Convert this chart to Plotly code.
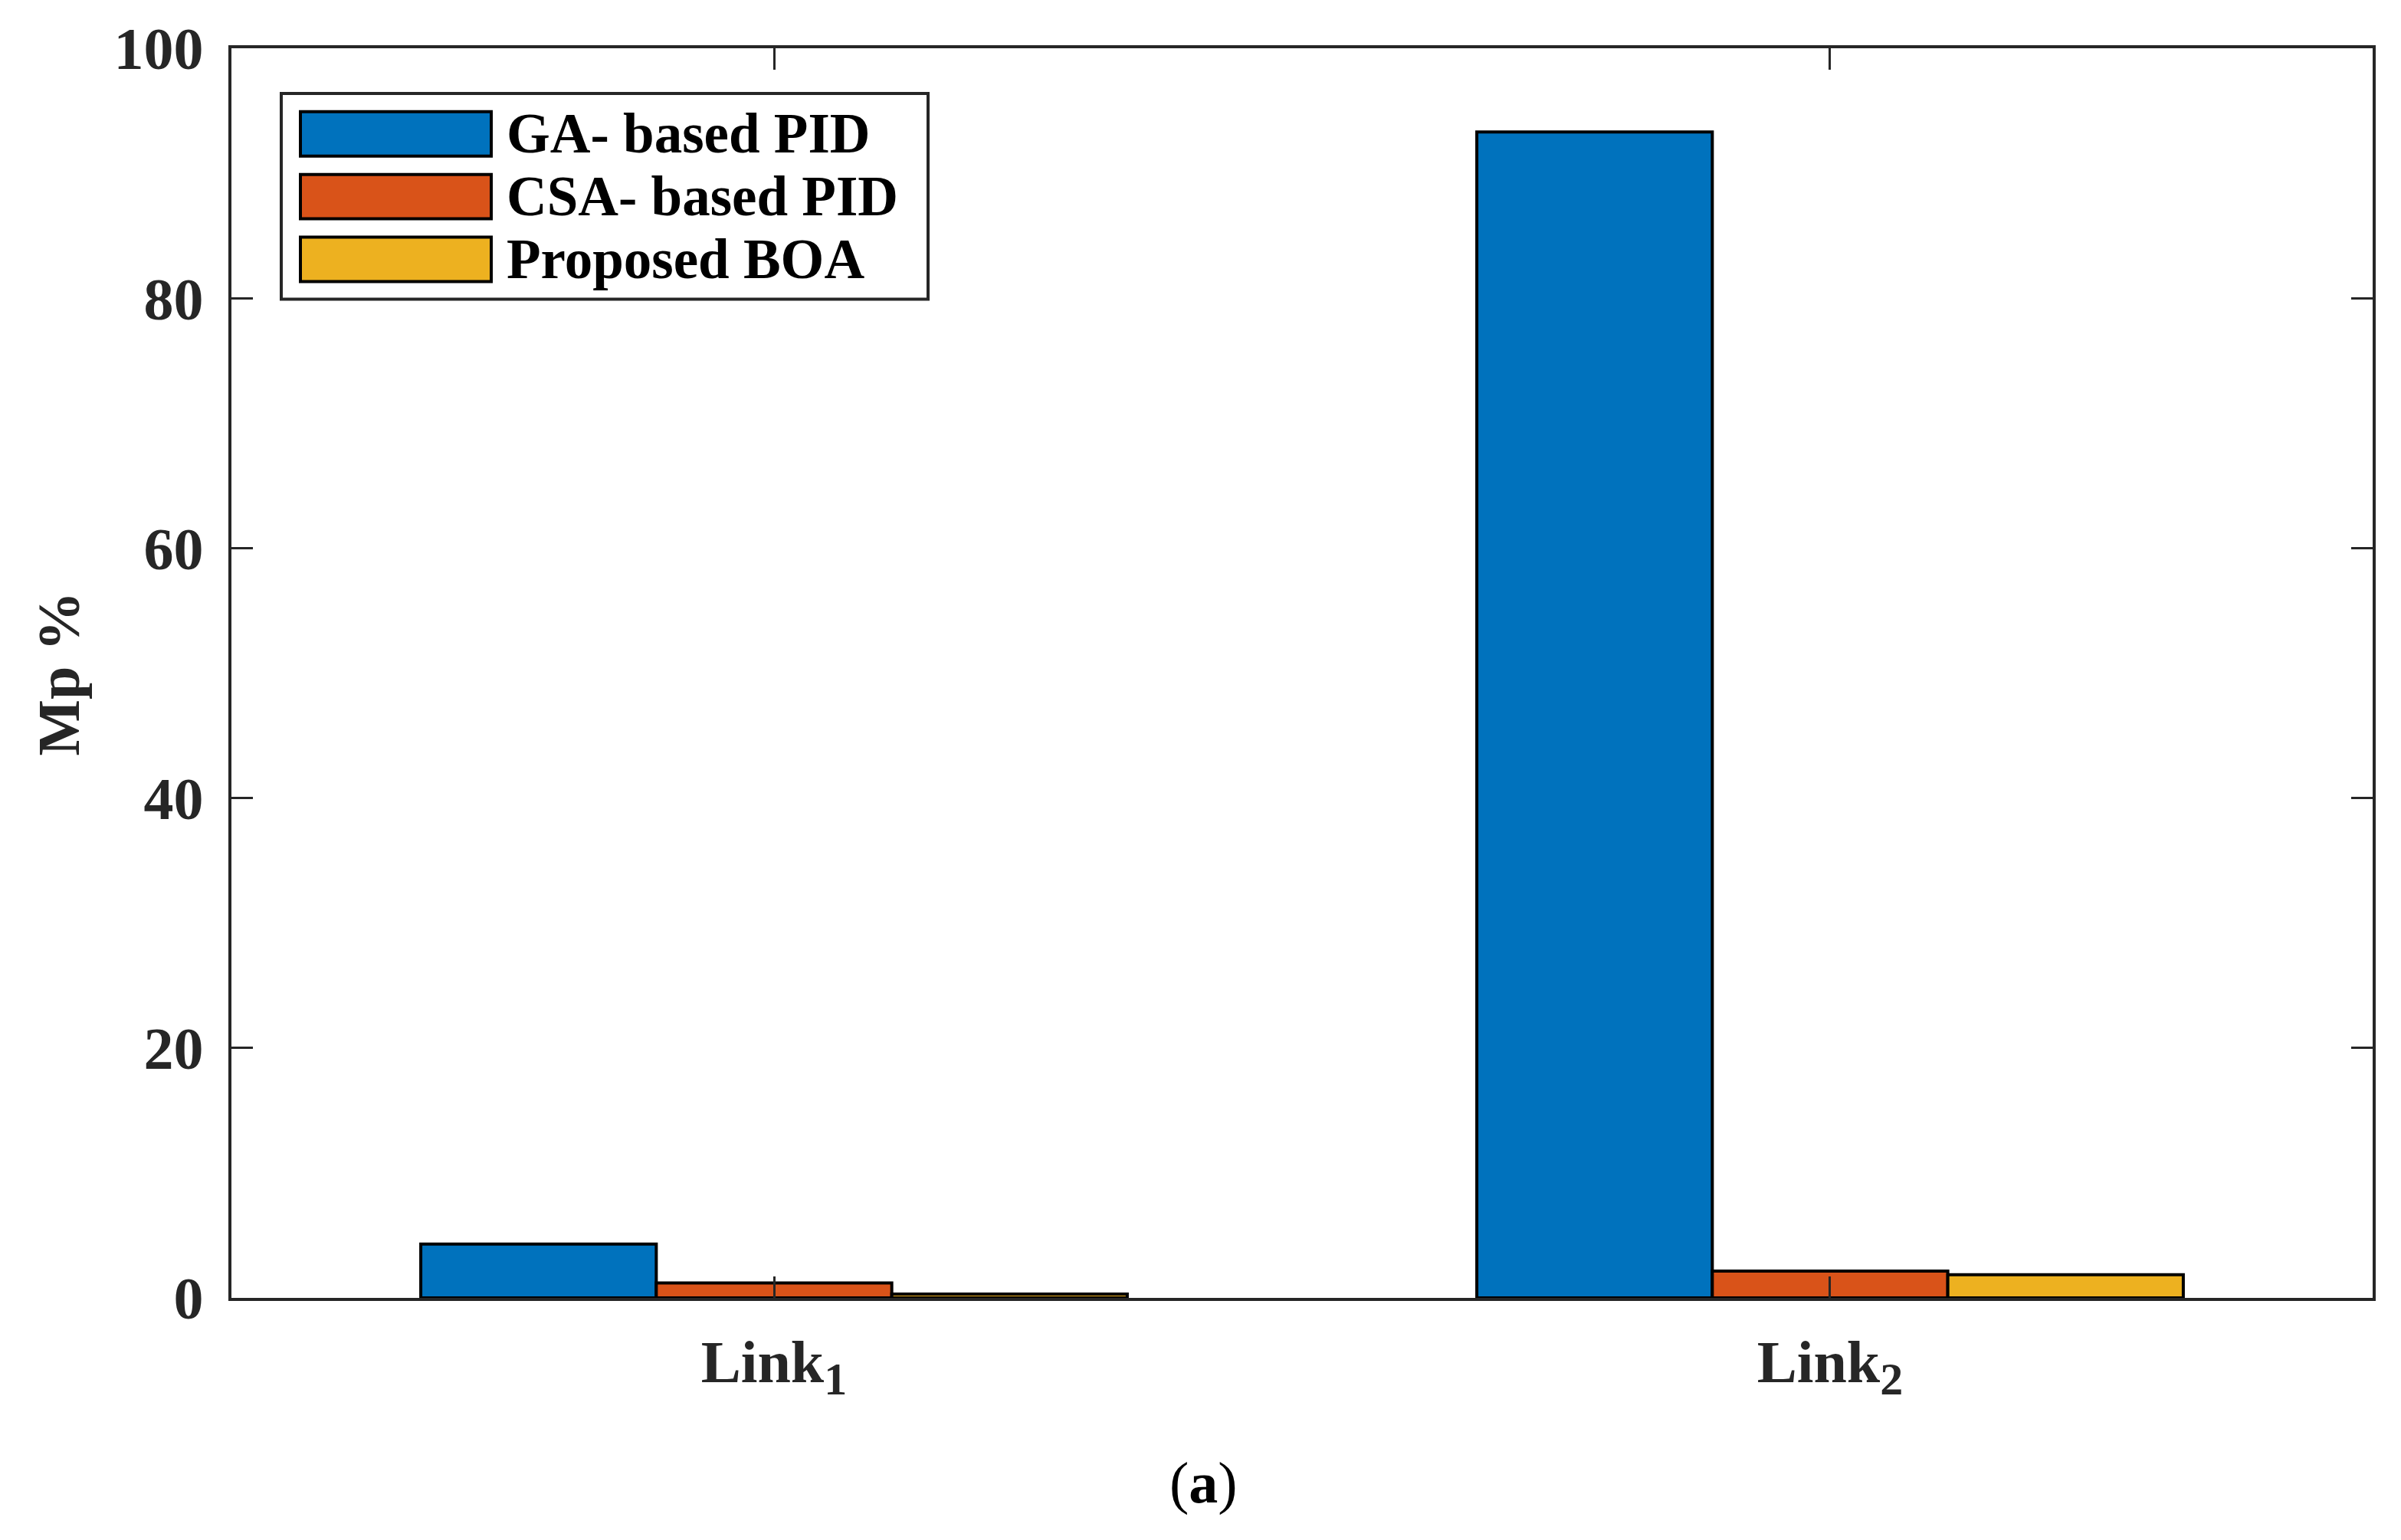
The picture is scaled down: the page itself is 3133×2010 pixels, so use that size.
import plotly.graph_objects as go

# ---- data ----
categories = ["Link1", "Link2"]
tick_labels = ["Link<sub><span style='font-size:60px'>1</span></sub>",
               "Link<sub><span style='font-size:60px'>2</span></sub>"]
series_names = ["GA- based PID", "CSA- based PID", "Proposed BOA"]
ga_values = [4.3, 93.3]
csa_values = [1.2, 2.15]
boa_values = [0.3, 1.85]
y_ticks = [0, 20, 40, 60, 80, 100]

colors = ["#0072BD", "#D95319", "#EDB120"]
OFF = 8  # default page body margin
W, H = 3133 - 2 * OFF, 2010 - 2 * OFF
# plot area in reference pixel coordinates
X0, X1, Y0, Y1 = 302, 3096, 60, 1694
ML, MR = X0 - OFF, W - (X1 - OFF)
MT, MB = Y0 - OFF, H - (Y1 - OFF)
FONT = "Liberation Serif"
AX = "#262626"


def px_x(x):
    return (x - X0) / (X1 - X0)


def px_y(y):
    return (Y1 - y) / (Y1 - Y0)


fig = go.Figure()
for name, vals, col in zip(series_names, [ga_values, csa_values, boa_values], colors):
    fig.add_trace(go.Bar(
        x=categories, y=vals, name=name,
        marker=dict(color=col, line=dict(color="black", width=4)),
        showlegend=False,
    ))

axis_common = dict(
    showline=True, linewidth=4, linecolor=AX, mirror="ticks",
    ticks="inside", ticklen=28, tickwidth=3, tickcolor=AX,
    showgrid=False, zeroline=False,
    tickfont=dict(family=FONT, size=78, color=AX, weight="bold"),
)

fig.update_layout(
    width=W, height=H,
    margin=dict(l=ML, r=MR, t=MT, b=MB),
    paper_bgcolor="white", plot_bgcolor="white",
    barmode="group", bargap=0.331, bargroupgap=0,
    xaxis=dict(**axis_common, type="category", range=[-0.5138, 1.5138],
               tickvals=categories, ticktext=tick_labels, ticklabelstandoff=12),
    yaxis=dict(**axis_common, range=[0, 100], tickvals=y_ticks, ticklabelstandoff=17),
)

# y-axis title
fig.add_annotation(xref="paper", yref="paper", x=px_x(76), y=px_y(878),
                   text="Mp %", textangle=-90, showarrow=False,
                   xanchor="center", yanchor="middle",
                   font=dict(family=FONT, size=78, color=AX, weight="bold"))
# panel label
fig.add_annotation(xref="paper", yref="paper", x=px_x(1570), y=px_y(1936),
                   text="(<b>a</b>)", showarrow=False,
                   xanchor="center", yanchor="middle",
                   font=dict(family=FONT, size=76, color="black"))

# custom legend
fig.add_shape(type="rect", xref="paper", yref="paper",
              x0=px_x(367), x1=px_x(1211), y0=px_y(388), y1=px_y(119),
              line=dict(color=AX, width=4), fillcolor="white", layer="above")
row_centers = [172, 254, 336]
for name, col, cy in zip(series_names, colors, row_centers):
    fig.add_shape(type="rect", xref="paper", yref="paper",
                  x0=px_x(392), x1=px_x(641), y0=px_y(cy + 29), y1=px_y(cy - 29),
                  line=dict(color="black", width=4), fillcolor=col, layer="above")
    fig.add_annotation(xref="paper", yref="paper", x=px_x(659), y=px_y(cy),
                       text=name, showarrow=False, xanchor="left", yanchor="middle",
                       font=dict(family=FONT, size=73, color="black", weight="bold"))

fig.write_html("out.html")
